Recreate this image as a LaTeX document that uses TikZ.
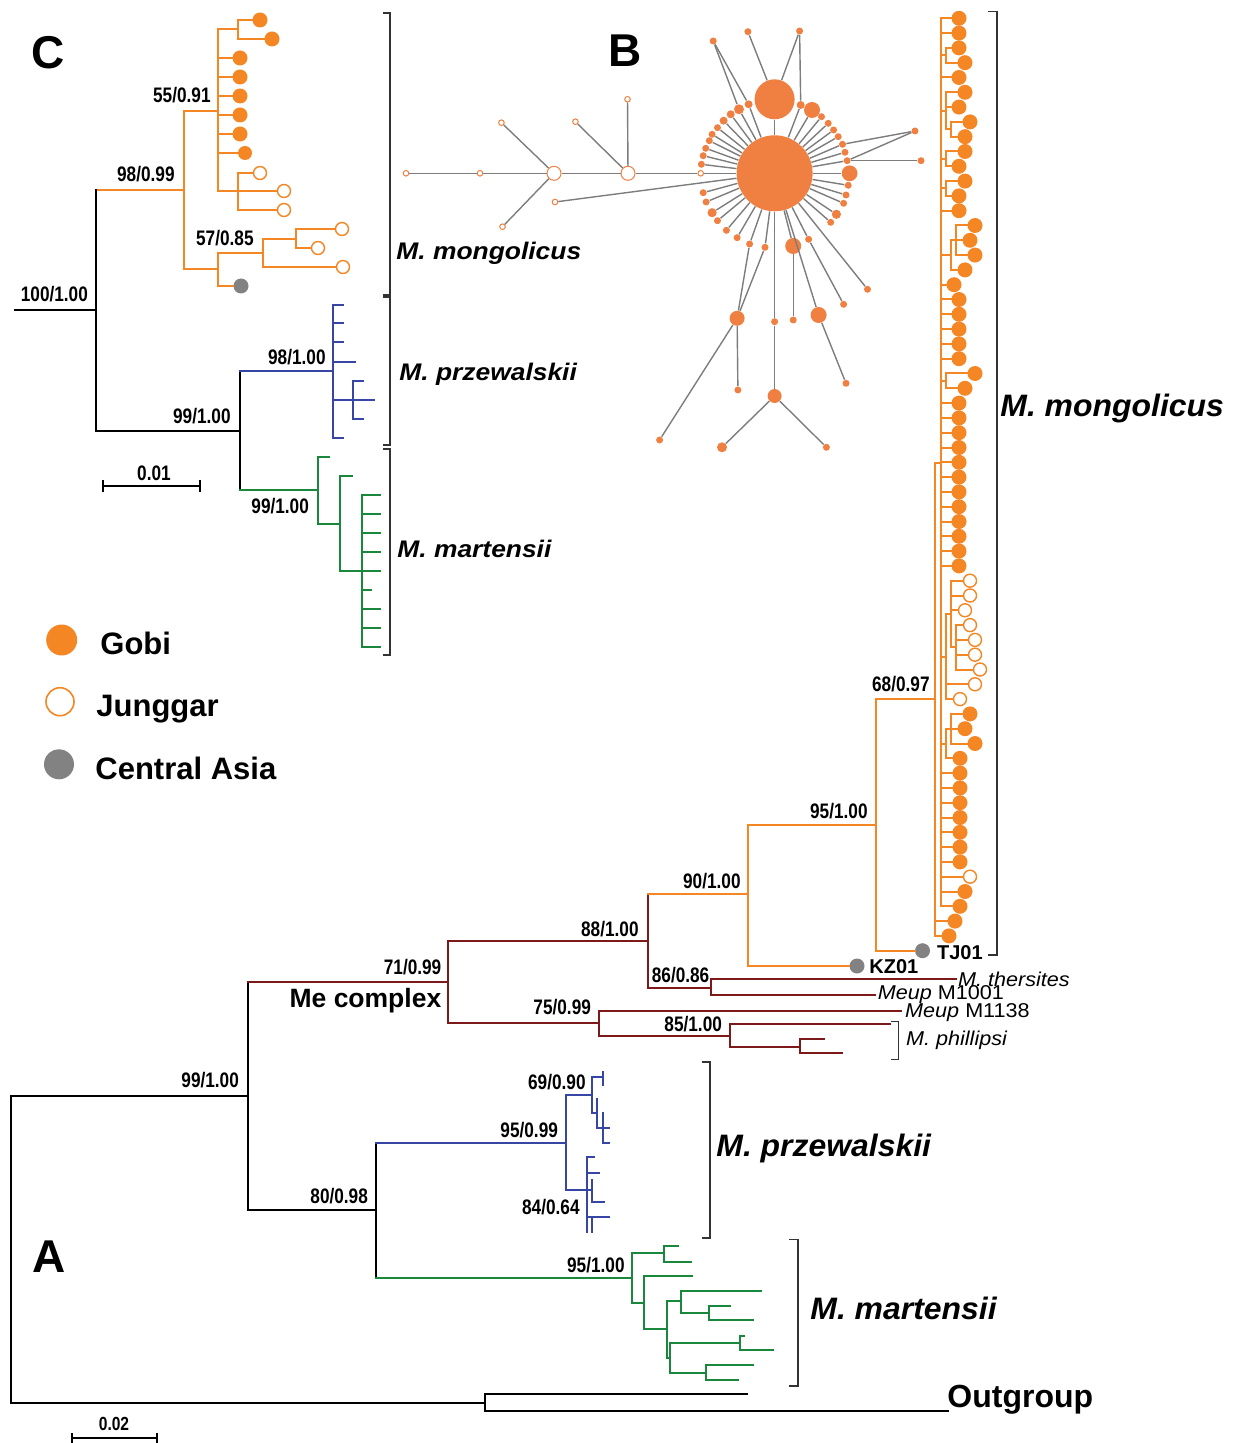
\documentclass[tikz,border=0pt]{standalone}
\usepackage{fontspec}
\setmainfont{Liberation Sans}
\newfontfamily\svf[FakeStretch=0.82]{Liberation Sans}
\newfontfamily\wcf[FakeStretch=1.1]{Liberation Sans}
\newfontfamily\waf[FakeStretch=1.03]{Liberation Sans}
\newfontfamily\wsf[FakeStretch=1.08]{Liberation Sans}
\definecolor{torange}{RGB}{245,134,36}
\definecolor{norange}{RGB}{240,128,66}
\definecolor{cgray}{RGB}{130,130,130}
\definecolor{egray}{RGB}{125,125,125}
\definecolor{dred}{RGB}{125,25,25}
\definecolor{tblue}{RGB}{55,70,165}
\definecolor{tgreen}{RGB}{25,135,60}
\newcommand\rl[5]{\node[#1] (#2) at (#4,#5) {}; \draw[bo] (#3,#5) -- (#2);}
\begin{document}
\begin{tikzpicture}[x=0.5pt,y=-0.5pt,
  br/.style={line width=1pt,line cap=rect},
  bk/.style={br,black},
  bo/.style={br,torange},
  bd/.style={br,dred},
  bb/.style={br,tblue},
  bg/.style={br,tgreen},
  brk/.style={line width=0.8pt,black!80},
  fdot/.style={circle,fill=torange,inner sep=0,minimum size=#1},
  fdot/.default=7.5pt,
  odot/.style={circle,draw=torange,fill=white,line width=0.7pt,inner sep=0,minimum size=#1},
  odot/.default=6.5pt,
  gdot/.style={circle,fill=cgray,inner sep=0,minimum size=#1},
  gdot/.default=7.5pt,
  nf/.style={circle,fill=norange,inner sep=0,minimum size=#1},
  nf/.default=3.5pt,
  no/.style={circle,draw=norange,fill=white,line width=0.5pt,inner sep=0,minimum size=#1},
  no/.default=2.8pt,
  ne/.style={draw=egray,line width=0.7pt},
  sv/.style={font=\svf\bfseries\fontsize{10.5}{12}\selectfont,inner sep=0,anchor=base east},
  big/.style={font=\bfseries\fontsize{23}{26}\selectfont,inner sep=0,anchor=base west},
  itC/.style={font=\wcf\bfseries\itshape\fontsize{12}{14}\selectfont,inner sep=0,anchor=base west},
  itA/.style={font=\waf\bfseries\itshape\fontsize{15.5}{18}\selectfont,inner sep=0,anchor=base west},
  sm/.style={font=\wsf\fontsize{10}{12}\selectfont,inner sep=0,anchor=base west},
  bl/.style={font=\bfseries\fontsize{10}{12}\selectfont,inner sep=0,anchor=base west},
  leg/.style={font=\bfseries\fontsize{15.5}{18}\selectfont,inner sep=0,anchor=base west}]
\useasboundingbox (0,0) rectangle (1233,1443);

% ================= Panel C =================
\node[big] (labC) at (31,68.5) {C};
% orange clade
\draw[bo] (96,190) -- (184,190);
\draw[bo] (184,111) -- (184,269);
\draw[bo] (184,111) -- (218,111);
\draw[bo] (218,29) -- (218,191);
\draw[bo] (218,29) -- (238,29);
\draw[bo] (238,20) -- (238,39);
\rl{fdot}{c1}{238}{260}{20}
\rl{fdot}{c2}{238}{272}{39}
\rl{fdot}{c3}{218}{240}{58}
\rl{fdot}{c4}{218}{240}{77}
\rl{fdot}{c5}{218}{240}{96}
\rl{fdot}{c6}{218}{240}{115}
\rl{fdot}{c7}{218}{240}{134}
\rl{fdot=7pt}{c8}{218}{245}{153}
\draw[bo] (218,191) -- (238,191);
\draw[bo] (238,173) -- (238,210);
\rl{odot}{c9}{238}{260}{173}
\rl{odot}{c10}{238}{284}{191}
\rl{odot}{c11}{238}{284}{210}
\draw[bo] (184,269) -- (218,269);
\draw[bo] (218,253) -- (218,286);
\draw[bo] (218,253) -- (263,253);
\draw[bo] (263,239) -- (263,267);
\draw[bo] (263,239) -- (296,239);
\draw[bo] (296,229) -- (296,248);
\rl{odot}{c12}{296}{342}{229}
\rl{odot}{c13}{296}{318}{248}
\rl{odot}{c14}{263}{343}{267}
\node[gdot] (c15) at (241,286) {};
\draw[bo] (218,286) -- (c15);
% black backbone
\draw[bk] (15,310) -- (96,310);
\draw[bk] (96,190) -- (96,431);
\draw[bk] (96,431) -- (240,431);
\draw[bk] (240,371) -- (240,490);
% blue clade
\draw[bb] (240,371) -- (333,371);
\draw[bb] (333,305) -- (333,438);
\foreach \yy in {305,323,342,438} \draw[bb] (333,\yy) -- (343,\yy);
\draw[bb] (333,362) -- (355,362);
\draw[bb] (333,400) -- (353,400);
\draw[bb] (353,381) -- (353,419);
\draw[bb] (353,381) -- (363,381);
\draw[bb] (353,400) -- (374,400);
\draw[bb] (353,419) -- (363,419);
% green clade
\draw[bg] (240,490) -- (318,490);
\draw[bg] (318,457) -- (318,524);
\draw[bg] (318,457) -- (329,457);
\draw[bg] (318,524) -- (340,524);
\draw[bg] (340,476) -- (340,571);
\draw[bg] (340,476) -- (352,476);
\draw[bg] (340,571) -- (362,571);
\draw[bg] (362,495) -- (362,647);
\foreach \yy in {495,514,533,552,571,609,628,647} \draw[bg] (362,\yy) -- (380,\yy);
\draw[bg] (362,590) -- (371,590);
% support values C
\node[sv] (sC1) at (211,103) {55/0.91};
\node[sv] (sC2) at (175,181.7) {98/0.99};
\node[sv] (sC3) at (254,245.5) {57/0.85};
\node[sv] (sC4) at (88.3,301.5) {100/1.00};
\node[sv] (sC5) at (326,365) {98/1.00};
\node[sv] (sC6) at (231,423.3) {99/1.00};
\node[sv] (sC7) at (309.3,513.3) {99/1.00};
% scale bar C
\draw[bk,line cap=butt] (103,486) -- (200,486);
\draw[bk,line cap=butt] (103,480) -- (103,492);
\draw[bk,line cap=butt] (200,480) -- (200,492);
\node[sv,anchor=base] (scC) at (154,480) {0.01};
% brackets C
\draw[brk] (383,13) -- (390,13) -- (390,295) -- (383,295);
\draw[brk] (383,297) -- (390,297) -- (390,445) -- (383,445);
\draw[brk] (383,449) -- (390,449) -- (390,655) -- (383,655);
\node[itC] (tCm) at (396,260) {M. mongolicus};
\node[itC] (tCp) at (399,381) {M. przewalskii};
\node[itC] (tCt) at (397,557) {M. martensii};

% ================= Legend =================
\node[circle,fill=torange,inner sep=0,minimum size=15.5pt] (lg1) at (61.7,640) {};
\node[circle,draw=torange,fill=white,line width=0.8pt,inner sep=0,minimum size=14pt] (lg2) at (60,701.7) {};
\node[circle,fill=cgray,inner sep=0,minimum size=15pt] (lg3) at (59,764.3) {};
\node[leg] (lt1) at (100,654) {Gobi};
\node[leg] (lt2) at (96,716) {Junggar};
\node[leg] (lt3) at (95,779) {Central Asia};

% ================= Panel B network =================
\node[big] (labB) at (608,66.7) {B};
\node[nf=38pt] (c0) at (774.6,173.3) {};
\node[nf=20pt] (t0) at (774.6,99.3) {};
\node[no] (l1) at (406,173.3) {};
\node[no] (l2) at (480,173.3) {};
\node[no=7pt] (l3) at (554,173.3) {};
\node[no=7pt] (l4) at (628,173.3) {};
\node[no] (l5) at (700.7,173.3) {};
\node[no] (l6) at (501.4,122.7) {};
\node[no] (l7) at (502.5,226.7) {};
\node[no] (l8) at (575.4,121.7) {};
\node[no] (l9) at (627.5,99.3) {};
\node[no] (l10) at (555,202) {};
\draw[ne] (l1) -- (l2);
\draw[ne] (l2) -- (l3);
\draw[ne] (l3) -- (l4);
\draw[ne] (l4) -- (l5);
\draw[ne] (l5) -- (c0);
\draw[ne] (l3) -- (l6);
\draw[ne] (l3) -- (l7);
\draw[ne] (l4) -- (l8);
\draw[ne] (l4) -- (l9);
\draw[ne] (l10) -- (c0);
% ring
\node[nf] (r1) at (717.5,127.7) {};
\node[nf] (r2) at (712.1,134.3) {};
\node[nf] (r3) at (709.3,140.7) {};
\node[nf] (r4) at (705.7,148.3) {};
\node[nf] (r5) at (703.2,155.7) {};
\node[nf] (r6) at (701.4,164.3) {};
\node[nf] (r7) at (703.2,192.7) {};
\node[nf] (r8) at (706.1,202) {};
\node[nf=4.6pt] (r9) at (712.1,212.7) {};
\node[nf] (r10) at (717.5,220.7) {};
\node[nf] (r11) at (726.4,230.3) {};
\node[nf] (r12) at (737.1,237.7) {};
\node[nf] (r13) at (749.6,244) {};
\node[nf] (r14) at (765,247.3) {};
\node[nf] (r15) at (821.5,116.7) {};
\node[nf] (r16) at (828.2,123.3) {};
\node[nf] (r17) at (833.6,130) {};
\node[nf] (r18) at (838.2,136.7) {};
\node[nf] (r19) at (842.5,144.3) {};
\node[nf] (r20) at (845,152.3) {};
\node[nf] (r21) at (847.1,160.7) {};
\node[nf=7.9pt] (r22) at (849.6,173.3) {};
\node[nf] (r23) at (848.2,185.3) {};
\node[nf] (r24) at (846,195) {};
\node[nf] (r25) at (843.6,203.3) {};
\node[nf=4.6pt] (r26) at (836.4,214.3) {};
\node[nf] (r27) at (830.7,222.3) {};
\node[nf] (r28) at (808.6,239.3) {};
\node[nf=8pt] (r29) at (793.2,246) {};
\node[nf=5pt] (r30) at (739,109.3) {};
\node[nf=4pt] (r31) at (748.6,104.3) {};
\node[nf=4pt] (r32) at (730.7,114.3) {};
\node[nf=4pt] (r33) at (723.6,120.7) {};
\node[nf=4pt] (r34) at (800.7,105) {};
\node[nf=8pt] (r35) at (812,110) {};
\foreach \n in {r1,r2,r3,r4,r5,r6,r7,r8,r9,r10,r11,r12,r13,r14,r15,r16,r17,r18,r19,r20,r21,r22,r23,r24,r25,r26,r27,r28,r29,r30,r31,r32,r33,r34,r35,t0}
  \draw[ne] (c0) -- (\n);
% outer nodes
\node[nf] (o1) at (867.5,289.3) {};
\node[nf] (o2) at (843.6,304.3) {};
\node[nf=8pt] (o3) at (818.6,315) {};
\node[nf] (o4) at (846,383.3) {};
\node[nf] (o5) at (793.2,320) {};
\node[nf] (o6) at (774.6,321.7) {};
\node[nf=7pt] (o7) at (774.6,396) {};
\node[nf=5pt] (o8) at (722,447.3) {};
\node[nf] (o9) at (826.4,447.3) {};
\node[nf=7.5pt] (o10) at (737.1,318.3) {};
\node[nf] (o11) at (737.9,390) {};
\node[nf] (o12) at (659.6,440) {};
\node[nf] (o13) at (915,131) {};
\node[nf] (o14) at (921,160.7) {};
\node[nf] (p1) at (713.2,41) {};
\node[nf] (p2) at (747.9,31.7) {};
\node[nf] (p3) at (799.6,31) {};
\draw[ne] (c0) -- (o1);
\draw[ne] (r28) -- (o2);
\draw[ne] (c0) -- (o3);
\draw[ne] (o3) -- (o4);
\draw[ne] (r29) -- (o5);
\draw[ne] (c0) -- (o6);
\draw[ne] (o6) -- (o7);
\draw[ne] (o7) -- (o8);
\draw[ne] (o7) -- (o9);
\draw[ne] (r13) -- (o10);
\draw[ne] (r14) -- (o10);
\draw[ne] (o10) -- (o11);
\draw[ne] (o10) -- (o12);
\draw[ne] (o13) -- (r19);
\draw[ne] (o13) -- (r21);
\draw[ne] (o14) -- (r21);
\draw[ne] (p1) -- (r30);
\draw[ne] (p1) -- (r31);
\draw[ne] (p2) -- (t0);
\draw[ne] (p3) -- (t0);
\draw[ne] (p3) -- (r34);

% ================= Panel A =================
\node[big] (labA) at (32,1272) {A};
% black backbone
\draw[bk] (11,1096) -- (11,1402.5);
\draw[bk] (11,1096) -- (248,1096);
\draw[bk] (248,982) -- (248,1210);
\draw[bk] (248,1210) -- (376,1210);
\draw[bk] (376,1143) -- (376,1278.3);
\draw[bk] (11,1402.5) -- (485,1402.5);
\draw[bk] (485,1394) -- (485,1410.5);
\draw[bk] (485,1394) -- (747,1394);
\draw[bk] (485,1410.5) -- (948,1410.5);
% Me complex (dark red)
\draw[bd] (248,982) -- (448,982);
\draw[bd] (448,941) -- (448,1023);
\draw[bd] (448,941) -- (648,941);
\draw[bd] (648,894) -- (648,988);
\draw[bd] (648,988) -- (711,988);
\draw[bd] (711,979.3) -- (711,995);
\draw[bd] (711,979.3) -- (956,979.3);
\draw[bd] (711,995) -- (875,995);
\draw[bd] (448,1023) -- (599,1023);
\draw[bd] (599,1010.7) -- (599,1035.7);
\draw[bd] (599,1010.7) -- (901,1010.7);
\draw[bd] (599,1035.7) -- (730,1035.7);
\draw[bd] (730,1024) -- (730,1047);
\draw[bd] (730,1024) -- (889.6,1024);
\draw[bd] (730,1047) -- (800,1047);
\draw[bd] (800,1039.3) -- (800,1053.3);
\draw[bd] (800,1039.3) -- (824,1039.3);
\draw[bd] (800,1053.3) -- (841.5,1053.3);
% orange mongolicus lineage
\draw[bo] (648,894) -- (748,894);
\draw[bo] (748,825) -- (748,966);
\node[gdot] (kz) at (857,966) {};
\draw[bo] (748,966) -- (kz);
\draw[bo] (748,825) -- (876,825);
\draw[bo] (876,699) -- (876,950.7);
\draw[bo] (876,699) -- (935,699);
\node[gdot] (tj) at (922.5,950.7) {};
\draw[bo] (876,950.7) -- (tj);
\node[bl] (tkz) at (869,973.3) {KZ01};
\node[bl] (ttj) at (936.7,959.3) {TJ01};
% main mongolicus clade
\draw[bo] (935,462.7) -- (935,935.9);
\draw[bo] (935,462.7) -- (941,462.7);
\draw[bo] (941,18.3) -- (941,906.3);
\rl{fdot}{m0}{941}{959}{18.3}
\rl{fdot}{m1}{941}{959}{33.1}
\draw[bo] (941,55.3) -- (946,55.3);
\draw[bo] (946,47.9) -- (946,62.7);
\rl{fdot}{m2}{946}{959}{47.9}
\rl{fdot}{m3}{946}{965}{62.7}
\rl{fdot}{m4}{941}{959}{77.5}
\draw[bo] (941,110.8) -- (946,110.8);
\draw[bo] (946,92.3) -- (946,129.3);
\draw[bo] (946,129.3) -- (951,129.3);
\draw[bo] (951,121.9) -- (951,136.7);
\rl{fdot}{m5}{946}{965}{92.3}
\rl{fdot}{m6}{946}{959}{107.1}
\rl{fdot}{m7}{951}{970}{121.9}
\rl{fdot}{m8}{951}{965}{136.7}
\draw[bo] (941,158.9) -- (946,158.9);
\draw[bo] (946,151.5) -- (946,166.3);
\rl{fdot}{m9}{946}{965}{151.5}
\rl{fdot}{m10}{946}{959}{166.3}
\draw[bo] (941,188.5) -- (946,188.5);
\draw[bo] (946,181.1) -- (946,195.9);
\rl{fdot}{m11}{946}{965}{181.1}
\rl{fdot}{m12}{946}{959}{195.9}
\rl{fdot}{m13}{941}{959}{210.7}
\draw[bo] (941,255.1) -- (951,255.1);
\draw[bo] (951,240.3) -- (951,269.9);
\draw[bo] (951,240.3) -- (956,240.3);
\draw[bo] (956,225.5) -- (956,255.1);
\rl{fdot}{m14}{956}{975}{225.5}
\rl{fdot}{m15}{956}{970}{240.3}
\rl{fdot}{m16}{956}{975}{255.1}
\rl{fdot}{m17}{951}{965}{269.9}
\rl{fdot}{m18}{941}{954}{284.7}
\rl{fdot}{m19}{941}{959}{299.5}
\rl{fdot}{m20}{941}{959}{314.3}
\rl{fdot}{m21}{941}{959}{329.1}
\rl{fdot}{m22}{941}{959}{343.9}
\rl{fdot}{m23}{941}{959}{358.7}
\draw[bo] (941,380.9) -- (946,380.9);
\draw[bo] (946,373.5) -- (946,388.3);
\rl{fdot}{m24}{946}{975}{373.5}
\rl{fdot}{m25}{946}{965}{388.3}
\rl{fdot}{m26}{941}{959}{403.1}
\rl{fdot}{m27}{941}{959}{417.9}
\rl{fdot}{m28}{941}{959}{432.7}
\rl{fdot}{m29}{941}{959}{447.5}
\rl{fdot}{m30}{941}{959}{462.3}
\rl{fdot}{m31}{941}{959}{477.1}
\rl{fdot}{m32}{941}{959}{491.9}
\rl{fdot}{m33}{941}{959}{506.7}
\rl{fdot}{m34}{941}{959}{521.5}
\rl{fdot}{m35}{941}{959}{536.3}
\rl{fdot}{m36}{941}{959}{551.1}
\rl{fdot}{m37}{941}{959}{565.9}
% open (Junggar) clade
\draw[bo] (941,656.6) -- (946,656.6);
\draw[bo] (946,614) -- (946,699.1);
\draw[bo] (946,614) -- (951,614);
\draw[bo] (951,580.7) -- (951,647.3);
\draw[bo] (951,647.3) -- (956,647.3);
\draw[bo] (956,625.1) -- (956,669.5);
\rl{odot}{m38}{951}{970}{580.7}
\rl{odot}{m39}{951}{970}{595.5}
\rl{odot}{m40}{951}{965}{610.3}
\rl{odot}{m41}{956}{970}{625.1}
\rl{odot}{m42}{956}{975}{639.9}
\rl{odot}{m43}{956}{975}{654.7}
\rl{odot}{m44}{956}{980}{669.5}
\rl{odot}{m45}{946}{975}{684.3}
\rl{odot}{m46}{946}{960}{699.1}
% lower Gobi
\draw[bo] (941,743.5) -- (946,743.5);
\draw[bo] (946,728.7) -- (946,758.3);
\draw[bo] (946,728.7) -- (951,728.7);
\draw[bo] (951,713.9) -- (951,743.5);
\rl{fdot}{m47}{951}{970}{713.9}
\rl{fdot}{m48}{951}{965}{728.7}
\rl{fdot}{m49}{951}{975}{743.5}
\rl{fdot}{m50}{946}{960}{758.3}
\rl{fdot}{m51}{941}{960}{773.1}
\rl{fdot}{m52}{941}{960}{787.9}
\rl{fdot}{m53}{941}{960}{802.7}
\rl{fdot}{m54}{941}{960}{817.5}
\rl{fdot}{m55}{941}{960}{832.3}
\rl{fdot}{m56}{941}{960}{847.1}
\rl{fdot}{m57}{941}{960}{861.9}
\rl{odot}{m58}{941}{970}{876.7}
\rl{fdot}{m59}{941}{965}{891.5}
\rl{fdot}{m60}{941}{960}{906.3}
\rl{fdot}{m61}{935}{955}{921.1}
\rl{fdot}{m62}{935}{949}{935.9}
% przewalskii (blue)
\draw[bb] (376,1143) -- (566,1143);
\draw[bb] (566,1095) -- (566,1190);
\draw[bb] (566,1095) -- (591.7,1095);
\draw[bb] (591.7,1076.7) -- (591.7,1113.3);
\draw[bb] (591.7,1076.7) -- (603.3,1076.7);
\draw[bb] (603.3,1071.7) -- (603.3,1085);
\draw[bb] (591.7,1113.3) -- (596.7,1113.3);
\draw[bb] (596.7,1099.3) -- (596.7,1128.3);
\draw[bb] (596.7,1128.3) -- (603.3,1128.3);
\draw[bb] (603.3,1113.3) -- (603.3,1143.3);
\draw[bb] (603.3,1128.3) -- (609.3,1128.3);
\draw[bb] (603.3,1143.3) -- (609.3,1143.3);
\draw[bb] (566,1190) -- (587.3,1190);
\draw[bb] (587.3,1157.3) -- (587.3,1231.7);
\draw[bb] (587.3,1157.3) -- (594,1157.3);
\draw[bb] (587.3,1172.7) -- (599,1172.7);
\draw[bb] (587.3,1190) -- (591.7,1190);
\draw[bb] (591.7,1180) -- (591.7,1201.7);
\draw[bb] (591.7,1201.7) -- (604,1201.7);
\draw[bb] (587.3,1216.7) -- (591.7,1216.7);
\draw[bb] (591.7,1216.7) -- (591.7,1231.7);
\draw[bb] (591.7,1216.7) -- (609.3,1216.7);
% martensii (green)
\draw[bg] (376,1278.3) -- (632.3,1278.3);
\draw[bg] (632.3,1253.3) -- (632.3,1302.7);
\draw[bg] (632.3,1253.3) -- (664,1253.3);
\draw[bg] (664,1246) -- (664,1261.7);
\draw[bg] (664,1246) -- (678.3,1246);
\draw[bg] (664,1261.7) -- (690.7,1261.7);
\draw[bg] (632.3,1302.7) -- (644.3,1302.7);
\draw[bg] (644.3,1276) -- (644.3,1329.3);
\draw[bg] (644.3,1276) -- (691.7,1276);
\draw[bg] (644.3,1329.3) -- (667.3,1329.3);
\draw[bg] (667.3,1301) -- (667.3,1358.3);
\draw[bg] (667.3,1301) -- (680.7,1301);
\draw[bg] (680.7,1291) -- (680.7,1313.3);
\draw[bg] (680.7,1291) -- (761,1291);
\draw[bg] (680.7,1313.3) -- (709.3,1313.3);
\draw[bg] (709.3,1306) -- (709.3,1320);
\draw[bg] (709.3,1306) -- (730,1306);
\draw[bg] (709.3,1320) -- (753.3,1320);
\draw[bg] (667.3,1358.3) -- (670,1358.3);
\draw[bg] (670,1343.3) -- (670,1373.3);
\draw[bg] (670,1343.3) -- (740,1343.3);
\draw[bg] (740,1336) -- (740,1350);
\draw[bg] (740,1336) -- (744,1336);
\draw[bg] (740,1350) -- (772.7,1350);
\draw[bg] (670,1373.3) -- (705.7,1373.3);
\draw[bg] (705.7,1365) -- (705.7,1380);
\draw[bg] (705.7,1365) -- (753.3,1365);
\draw[bg] (705.7,1380) -- (737.7,1380);
% support values A
\node[sv] (sA1) at (239.3,1087.7) {99/1.00};
\node[sv] (sA2) at (441.7,974.3) {71/0.99};
\node[sv] (sA3) at (368.3,1203.3) {80/0.98};
\node[sv] (sA4) at (639,936) {88/1.00};
\node[sv] (sA5) at (741,888.3) {90/1.00};
\node[sv] (sA6) at (709.7,982.3) {86/0.86};
\node[sv] (sA7) at (591.3,1014.3) {75/0.99};
\node[sv] (sA8) at (722.3,1031.7) {85/1.00};
\node[sv] (sA9) at (868,818) {95/1.00};
\node[sv] (sA10) at (930,691.7) {68/0.97};
\node[sv] (sA11) at (586,1089.3) {69/0.90};
\node[sv] (sA12) at (558.3,1137.3) {95/0.99};
\node[sv] (sA13) at (580,1214) {84/0.64};
\node[sv] (sA14) at (625,1272.7) {95/1.00};
\node[font=\bfseries\fontsize{13.25}{15}\selectfont,inner sep=0,anchor=base east] (mec) at (441.7,1007.3) {Me complex};
% taxon labels
\node[sm] (tth) at (957.7,986.5) {\itshape M. thersites};
\node[sm] (t1001) at (877.5,999.5) {\itshape Meup\upshape\ M1001};
\node[sm] (t1138) at (904.8,1017.3) {\itshape Meup\upshape\ M1138};
\node[sm] (tphi) at (905.7,1045.7) {\itshape M. phillipsi};
\draw[line width=0.5pt,black!80] (890.5,1021.7) -- (898.3,1021.7) -- (898.3,1059) -- (890.5,1059);
% brackets A
\draw[brk] (988,11.5) -- (996.7,11.5) -- (996.7,955) -- (988,955);
\draw[brk] (701.7,1062) -- (710,1062) -- (710,1238) -- (701.7,1238);
\draw[brk] (789.3,1239.3) -- (797.7,1239.3) -- (797.7,1386) -- (789.3,1386);
\node[itA] (tAm) at (1000,416.7) {M. mongolicus};
\node[itA] (tAp) at (716,1156.7) {M. przewalskii};
\node[itA] (tAt) at (810,1319.3) {M. martensii};
\node[font=\bfseries\fontsize{16}{18}\selectfont,inner sep=0,anchor=base west] (tout) at (947,1407) {Outgroup};
% scale bar A
\draw[bk,line cap=butt] (72,1438) -- (157,1438);
\draw[bk,line cap=butt] (72,1433) -- (72,1443);
\draw[bk,line cap=butt] (157,1433) -- (157,1443);
\node[sv,anchor=base,font=\svf\bfseries\fontsize{9.5}{11}\selectfont] (scA) at (114,1430) {0.02};
\end{tikzpicture}
\end{document}
